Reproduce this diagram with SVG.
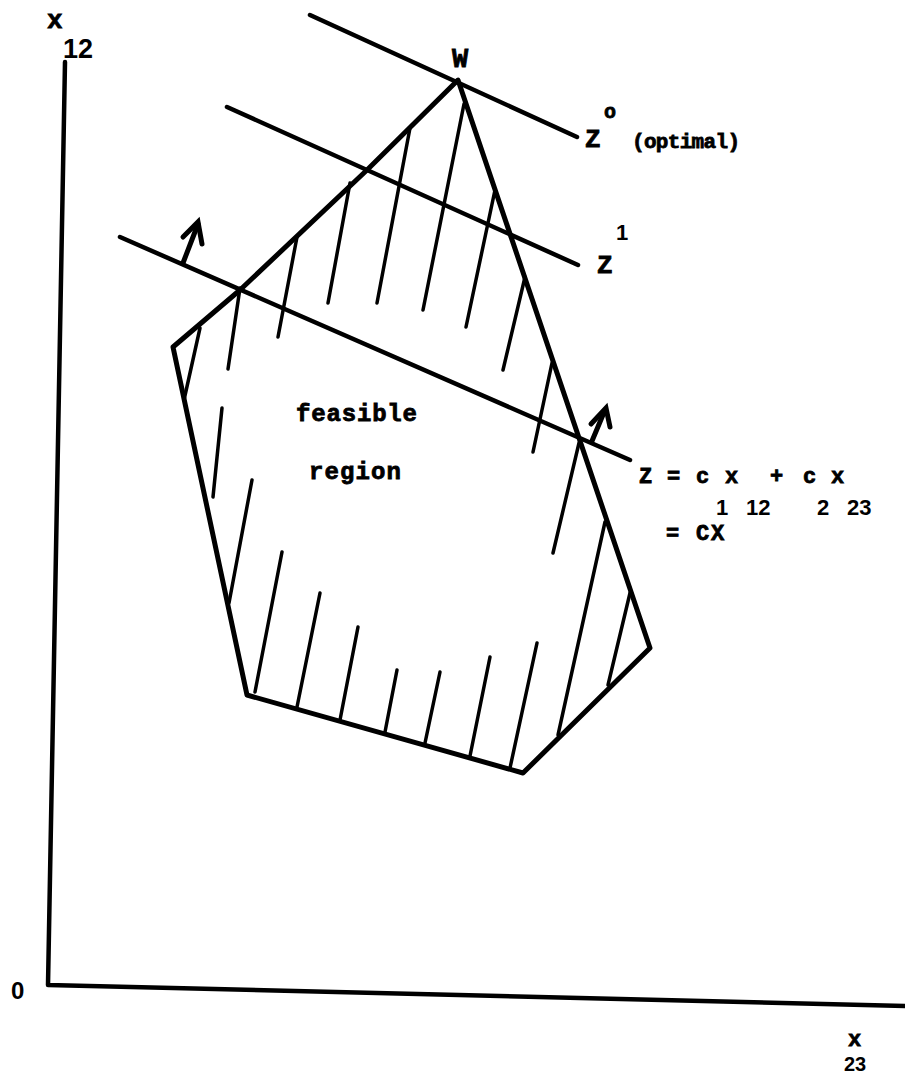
<svg xmlns="http://www.w3.org/2000/svg" width="905" height="1074" viewBox="0 0 905 1074">
<style>
.ink{fill:none;stroke:#000;stroke-linecap:round;stroke-linejoin:round}
.edge{stroke-width:5}
.axis{stroke-width:4.5}
.zl{stroke-width:4.5}
.hatch{stroke-width:3.5}
.arrow{stroke-width:5;stroke-linejoin:miter}
.tw{font-family:"Liberation Mono","DejaVu Sans Mono",monospace;font-weight:bold;fill:#000;stroke:#000;stroke-width:0.8}
.num{font-family:"Liberation Sans",Arial,sans-serif;font-weight:bold;fill:#000}
</style>
<rect width="905" height="1074" fill="#fff"/>

<g id="axes" class="ink axis">
  <path d="M65,62 L48,985 L905,1006"/>
</g>

<g id="feasible-region" class="ink edge">
  <path d="M458,80 L367,170 L240,290 L173,347 L247,695 L523,773 L650,648 Z"/>
</g>

<g id="hatching" class="ink hatch">
  <path d="M200,328 L184,400"/>
  <path d="M240,288 L228,369"/>
  <path d="M297,237 L278,337"/>
  <path d="M350,183 L328,303"/>
  <path d="M410,128 L377,303"/>
  <path d="M464,104 L423,310"/>
  <path d="M495,190 L466,327"/>
  <path d="M525,277 L503,370"/>
  <path d="M552,363 L533,452"/>
  <path d="M579,443 L553,553"/>
  <path d="M222,408 L213,497"/>
  <path d="M252,480 L229,603"/>
  <path d="M282,552 L255,692"/>
  <path d="M320,593 L297,707"/>
  <path d="M358,627 L340,720"/>
  <path d="M397,670 L385,732"/>
  <path d="M440,672 L425,743"/>
  <path d="M490,657 L470,756"/>
  <path d="M537,643 L510,768"/>
  <path d="M605,522 L558,735"/>
  <path d="M630,593 L608,685"/>
</g>

<g id="connectors">
  <g id="line-z0" class="ink zl"><path d="M310,15 L577,137"/></g>
  <g id="line-z1" class="ink zl"><path d="M227,107 L578,265"/></g>
  <g id="line-z" class="ink zl"><path d="M120,237 L630,460"/></g>
  <g id="arrow-left" class="ink arrow">
    <path d="M183,263 L198,224"/>
    <path d="M183,237 L198,222 L202,244"/>
  </g>
  <g id="arrow-right" class="ink arrow">
    <path d="M592,441 L605,410"/>
    <path d="M591,424 L606,408 L610,427"/>
  </g>
</g>

<g id="label-x12">
  <text class="tw" x="47" y="28" font-size="26">x</text>
  <text class="num" x="63" y="58" font-size="27">12</text>
</g>
<g id="label-origin">
  <text class="num" x="11" y="999" font-size="24">0</text>
</g>
<g id="label-x23">
  <text class="tw" x="848" y="1046" font-size="22">x</text>
  <text class="num" x="844" y="1071" font-size="20">23</text>
</g>
<g id="label-w">
  <text class="tw" x="452" y="67" font-size="27">W</text>
</g>
<g id="label-z0">
  <text class="tw" x="585" y="147" font-size="26">Z</text>
  <text class="tw" x="604" y="118" font-size="20">o</text>
  <text class="tw" x="632" y="148" font-size="21" textLength="108" lengthAdjust="spacing">(optimal)</text>
</g>
<g id="label-z1">
  <text class="tw" x="597" y="273" font-size="26">Z</text>
  <text class="num" x="616" y="240" font-size="22">1</text>
</g>
<g id="label-feasible">
  <text class="tw" x="296" y="421" font-size="24" textLength="121" lengthAdjust="spacing">feasible</text>
  <text class="tw" x="309" y="479" font-size="24" textLength="92" lengthAdjust="spacing">region</text>
</g>
<g id="label-equation">
  <text class="tw" font-size="22" y="483" x="639 654 667 683 696 712 725 750 770 788 803 819 831">Z = c x + c x</text>
  <text class="num" font-size="22" y="515" x="716 731 746">1 12</text>
  <text class="num" font-size="22" y="515" x="817 832 847">2 23</text>
  <text class="tw" font-size="22" y="540" x="666 682 696 711">= CX</text>
</g>
</svg>
